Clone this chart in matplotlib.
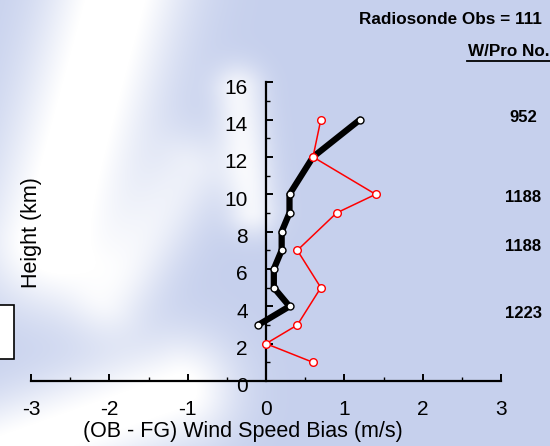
import numpy as np
import matplotlib
matplotlib.use('Agg')
import matplotlib.pyplot as plt
from matplotlib.patches import Rectangle
from matplotlib.transforms import ScaledTranslation

plt.rcParams['font.family'] = ['Liberation Sans', 'DejaVu Sans']
plt.rcParams['axes.unicode_minus'] = False

# wind speed bias profiles (m/s) vs height (km)
h_black = [14, 12, 10, 9, 8, 7, 6, 5, 4, 3]
bias_black = [1.2, 0.6, 0.3, 0.3, 0.2, 0.2, 0.1, 0.1, 0.3, -0.1]
h_red = [14, 12, 10, 9, 7, 5, 3, 2, 1]
bias_red = [0.7, 0.6, 1.4, 0.9, 0.4, 0.7, 0.4, 0.0, 0.6]

obs_text = 'Radiosonde Obs = 111'
wpro_counts = ['952', '1188', '1188', '1223']
wpro_y = [117, 197, 246, 314]  # pixel rows of the counts

W, H = 550, 446
fig = plt.figure(figsize=(W/100, H/100), dpi=100)

# background: light blue with soft white streaks
bg = fig.add_axes([0, 0, 1, 1])
yy, xx = np.mgrid[0:H, 0:W].astype(float)

def stroke(p0, p1, s, a):
    p0 = np.array(p0, float); p1 = np.array(p1, float)
    d = p1 - p0
    t = ((xx - p0[0])*d[0] + (yy - p0[1])*d[1]) / (d @ d)
    t = np.clip(t, 0, 1)
    px = p0[0] + t*d[0]; py = p0[1] + t*d[1]
    r2 = (xx - px)**2 + (yy - py)**2
    return a*np.exp(-r2/(2*s*s))

w = (stroke((120, -20), (50, 240), 48, 1.2)
     + stroke((238, 90), (252, 210), 18, 0.8)
     + stroke((-20, 460), (180, 390), 38, 1.1)
     + stroke((190, 170), (110, 300), 28, 0.6))
w = np.clip(w, 0, 1)[..., None]
base = np.array([198, 208, 237]) / 255.0
img = base*(1 - w) + 1.0*w
bg.imshow(img, extent=[0, W, H, 0], aspect='auto')
bg.set_xlim(0, W); bg.set_ylim(H, 0)
bg.axis('off')

# white box on the left edge
bg.add_patch(Rectangle((-5, 305), 19, 54, facecolor='white',
                       edgecolor='black', linewidth=1.2))

ax = fig.add_axes([31/W, (H-381)/H, 470/W, (381-82.3)/H])
ax.patch.set_alpha(0)
ax.set_xlim(-3, 3)
ax.set_ylim(0, 16)
ax.spines['top'].set_visible(False)
ax.spines['right'].set_visible(False)
ax.spines['left'].set_position(('data', 0))
ax.spines['left'].set_linewidth(1.6)
ax.spines['bottom'].set_linewidth(1.6)
ax.spines['left'].set_zorder(1)

ax.set_xticks(np.arange(-3, 4, 1))
ax.set_xticks(np.arange(-3, 3.01, 0.5), minor=True)
ax.set_yticks(np.arange(0, 17, 2))
ax.set_yticks(np.arange(1, 16, 2), minor=True)
ax.tick_params(which='major', direction='in', length=5, width=1.4, labelsize=15)
ax.tick_params(which='minor', direction='in', length=3, width=1.0)
ax.tick_params(axis='x', which='major', pad=14)
ax.tick_params(axis='y', which='major', pad=13)
off = ScaledTranslation(0, -4/100, fig.dpi_scale_trans)
for lab in ax.get_yticklabels():
    lab.set_transform(lab.get_transform() + off)

ax.plot(bias_black, h_black, '-', color='black', lw=4.5, solid_joinstyle='round',
        solid_capstyle='round', marker='o', ms=5, mfc='white', mec='black', mew=1,
        zorder=3, clip_on=False)
ax.plot(bias_red, h_red, '-', color='#ff0000', lw=1.1, marker='o', ms=5.5,
        mfc='white', mec='#ff0000', mew=1, zorder=4, clip_on=False)

fig.text(243/W, 1 - 432/H, '(OB - FG) Wind Speed Bias (m/s)', fontsize=15.5,
         ha='center', va='center')
fig.text(31/W, 1 - 233/H, 'Height (km)', fontsize=15.5, rotation=90,
         ha='center', va='center')

fig.text(542/W, 1 - 19/H, obs_text, fontsize=12.3, fontweight='bold',
         ha='right', va='center')
fig.text(550/W, 1 - 52/H, 'W/Pro No.', fontsize=12.3, fontweight='bold',
         ha='right', va='center')
bg.plot([467, 550], [60.5, 60.5], color='black', lw=1.3)
for txt, y in zip(wpro_counts, wpro_y):
    fig.text(523/W, 1 - y/H, txt, fontsize=12, fontweight='bold',
             ha='center', va='center')

fig.savefig('out.png', dpi=100)
